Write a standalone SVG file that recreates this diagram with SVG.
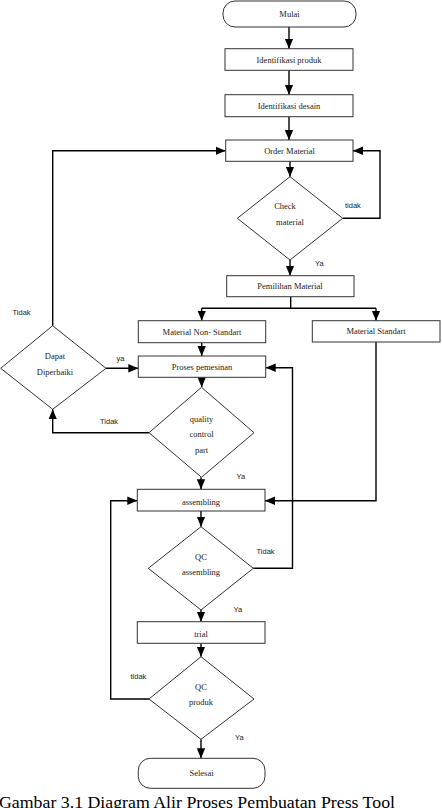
<svg xmlns="http://www.w3.org/2000/svg" width="442" height="808" viewBox="0 0 442 808">
<style>
.box{fill:#fff;stroke:#333;stroke-width:1}
.t{font-family:"Liberation Serif","Times New Roman",serif;font-size:8.5px;fill:#222;text-anchor:middle}
.l{font-family:"Liberation Sans",Arial,sans-serif;font-size:7.5px;fill:#222}
.c{fill:none;stroke:#000;stroke-width:1.4}
.cap{font-family:"Liberation Serif","Times New Roman",serif;font-size:17px;fill:#000}
</style>
<defs>
<marker id="a" markerUnits="userSpaceOnUse" markerWidth="10" markerHeight="10" viewBox="0 0 10 10" refX="10" refY="5" orient="auto">
<path d="M0,0.8 L10,5 L0,9.2 Z" fill="#000"/>
</marker>
</defs>
<rect width="442" height="808" fill="#fff"/>
<g id="connectors">
<path class="c" d="M289 27 V48.7" marker-end="url(#a)"/>
<path class="c" d="M289 70.3 V94.7" marker-end="url(#a)"/>
<path class="c" d="M289 116.7 V140" marker-end="url(#a)"/>
<path class="c" d="M290 161.3 V176.7" marker-end="url(#a)"/>
<path class="c" d="M342.7 218.3 H380 V150.7 H353" marker-end="url(#a)"/>
<path class="c" d="M290 260 V275.7" marker-end="url(#a)"/>
<path class="c" d="M290.7 296.7 V308.3 M201.7 308.3 H376"/>
<path class="c" d="M201.7 308.3 V320.7" marker-end="url(#a)"/>
<path class="c" d="M376 308.3 V320.7" marker-end="url(#a)"/>
<path class="c" d="M201.7 342.7 V356" marker-end="url(#a)"/>
<path class="c" d="M201.7 377.3 V387.3" marker-end="url(#a)"/>
<path class="c" d="M149 432.7 H52.7 V409.3" marker-end="url(#a)"/>
<path class="c" d="M52.7 325.7 V150.7 H225.7" marker-end="url(#a)"/>
<path class="c" d="M106 368.3 H138.3" marker-end="url(#a)"/>
<path class="c" d="M201 477.3 V489.3" marker-end="url(#a)"/>
<path class="c" d="M376 342 V500.7 H265" marker-end="url(#a)"/>
<path class="c" d="M201 511 V526.7" marker-end="url(#a)"/>
<path class="c" d="M253.3 568.3 H292.5 V367.7 H265.7" marker-end="url(#a)"/>
<path class="c" d="M201 610 V621.7" marker-end="url(#a)"/>
<path class="c" d="M201 643.3 V656.7" marker-end="url(#a)"/>
<path class="c" d="M149 699 H110.7 V500.7 H137.3" marker-end="url(#a)"/>
<path class="c" d="M201 739.3 V758.3" marker-end="url(#a)"/>
</g>
<g id="mulai"><rect class="box" x="223" y="1" width="133" height="26" rx="12"/><text class="t" x="289.5" y="17">Mulai</text></g>
<g id="ident-produk"><rect class="box" x="225" y="48.7" width="128" height="21.6"/><text class="t" x="289" y="62.5">Identifikasi produk</text></g>
<g id="ident-desain"><rect class="box" x="225" y="94.7" width="128" height="22"/><text class="t" x="289" y="108.5">Identifikasi desain</text></g>
<g id="order"><rect class="box" x="225.7" y="140" width="127.3" height="21.3"/><text class="t" x="289.5" y="153.5">Order Material</text></g>
<g id="check"><polygon class="box" points="290,176.7 342.7,218.3 290,260 237.3,218.3"/><text class="t" x="285" y="208.5">Check</text><text class="t" x="290" y="224.5">material</text></g>
<g id="pemilihan"><rect class="box" x="226.7" y="275.7" width="127.3" height="21"/><text class="t" x="290" y="289">Pemilihan Material</text></g>
<g id="non-standart"><rect class="box" x="138.3" y="320.7" width="127.4" height="22"/><text class="t" x="202" y="334.5">Material Non- Standart</text></g>
<g id="standart"><rect class="box" x="312.3" y="320.7" width="127.7" height="21.3"/><text class="t" x="376" y="334">Material Standart</text></g>
<g id="proses"><rect class="box" x="138.3" y="356" width="127.4" height="21.3"/><text class="t" x="202" y="370">Proses pemesinan</text></g>
<g id="dapat"><polygon class="box" points="52.7,325.7 106,368.3 52.7,409.3 0.7,368.3"/><text class="t" x="55" y="358.5">Dapat</text><text class="t" x="55" y="374.5">Diperbaiki</text></g>
<g id="qc-part"><polygon class="box" points="201.5,387.3 254,432.7 201.5,477.3 149,432.7"/><text class="t" x="201.5" y="421.5">quality</text><text class="t" x="201.5" y="437">control</text><text class="t" x="201.5" y="452.5">part</text></g>
<g id="assembling"><rect class="box" x="137.3" y="489.3" width="127.7" height="21.7"/><text class="t" x="201" y="504.5">assembling</text></g>
<g id="qc-assembling"><polygon class="box" points="201,526.7 253.3,568.3 201,610 148.3,568.3"/><text class="t" x="201" y="559.5">QC</text><text class="t" x="201" y="575">assembling</text></g>
<g id="trial"><rect class="box" x="137.3" y="621.7" width="127.7" height="21.6"/><text class="t" x="201" y="636.5">trial</text></g>
<g id="qc-produk"><polygon class="box" points="201,656.7 254,699 201,739.3 149,699"/><text class="t" x="201" y="689.5">QC</text><text class="t" x="201" y="705">produk</text></g>
<g id="selesai"><rect class="box" x="138.3" y="758.3" width="126.7" height="30" rx="12"/><text class="t" x="201.5" y="776">Selesai</text></g>
<g id="labels">
<text class="l" x="345" y="208">tidak</text>
<text class="l" x="315" y="266">Ya</text>
<text class="l" x="12.5" y="315">Tidak</text>
<text class="l" x="116.5" y="361">ya</text>
<text class="l" x="100" y="424">Tidak</text>
<text class="l" x="236.5" y="478.5">Ya</text>
<text class="l" x="256.5" y="553.5">Tidak</text>
<text class="l" x="233.5" y="612">Ya</text>
<text class="l" x="130.5" y="679">tidak</text>
<text class="l" x="235" y="740">Ya</text>
</g>
<text class="cap" x="-1" y="808" textLength="396" lengthAdjust="spacingAndGlyphs">Gambar 3.1 Diagram Alir Proses Pembuatan Press Tool</text>
</svg>
